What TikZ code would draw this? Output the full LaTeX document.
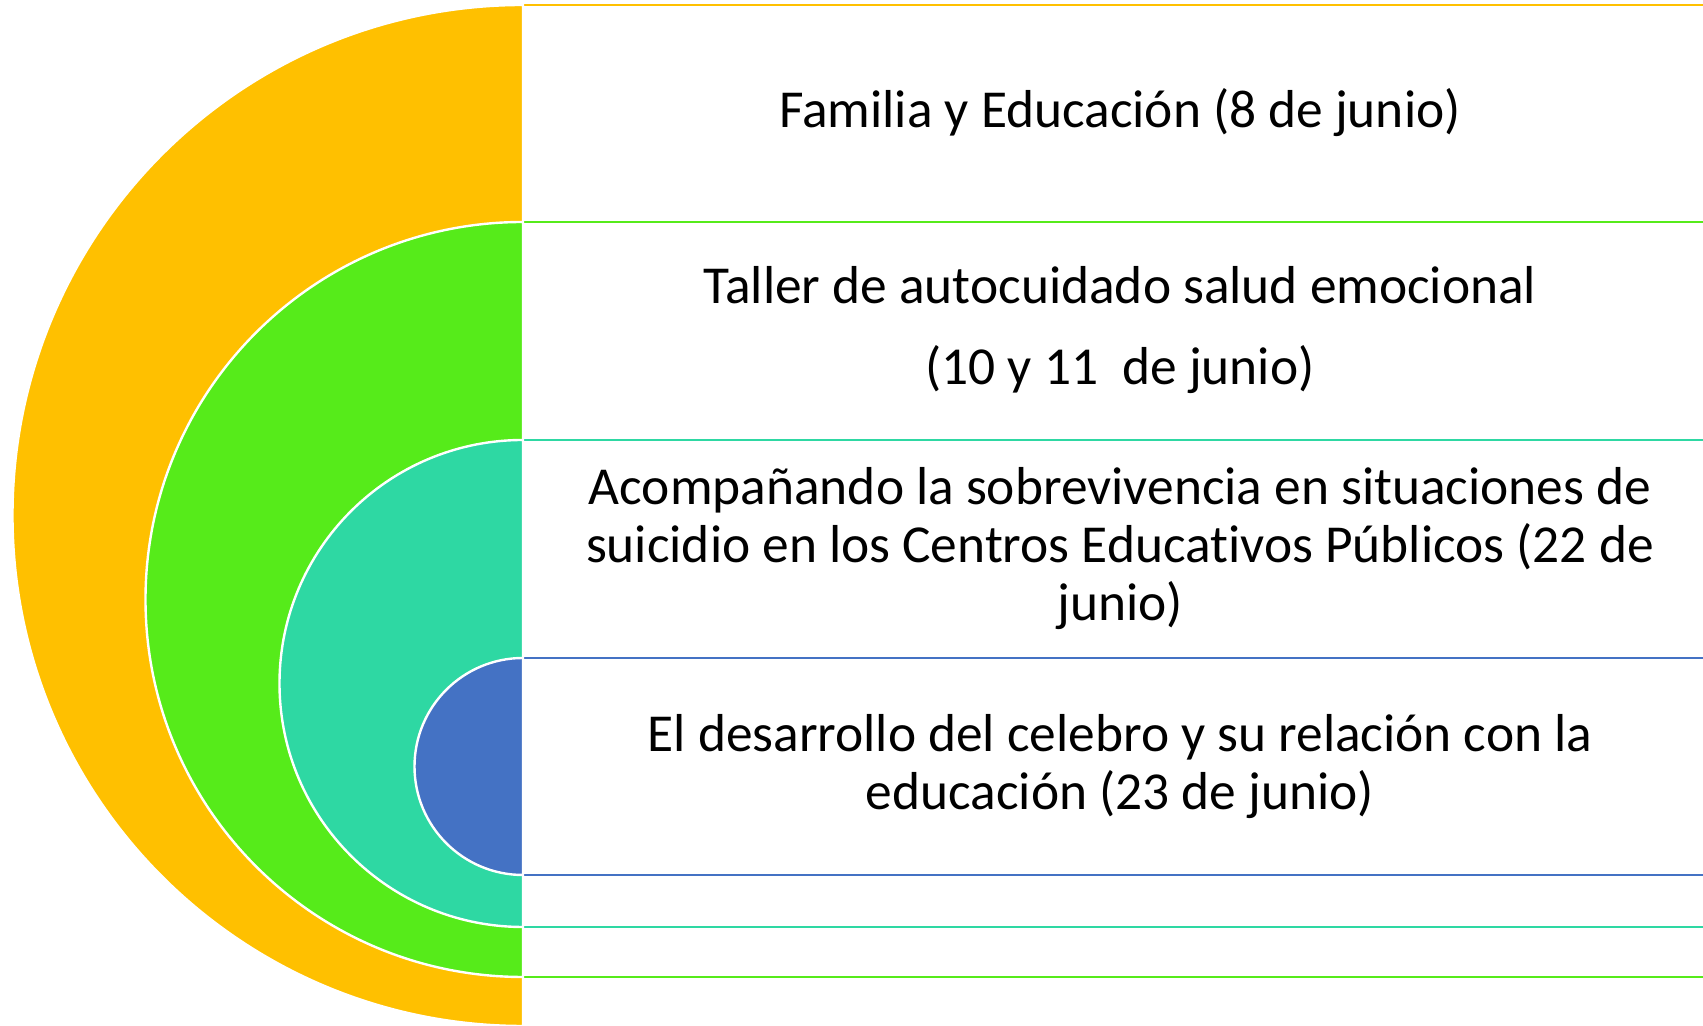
\documentclass[tikz,border=0pt]{standalone}
\usepackage{fontspec}
\setmainfont{Carlito}[Ligatures=NoCommon]
\usepackage{tikz}
\usetikzlibrary{positioning}
\definecolor{ringorange}{HTML}{FFC000}
\definecolor{ringgreen}{HTML}{56EB1A}
\definecolor{ringteal}{HTML}{2ED8A3}
\definecolor{ringblue}{HTML}{4472C4}
\tikzset{band/.style={fill=white, line width=1pt}}
\tikzset{halfdisk/.style={draw=white, line width=1.2pt}}
\tikzset{topic/.style={font=\fontsize{26.7}{29}\selectfont, align=center,
    anchor=base, inner sep=0pt}}

\begin{document}
\begin{tikzpicture}[x=0.5pt, y=0.5pt]
  \useasboundingbox (0,0) rectangle (1703,1026);
  \clip (0,0) rectangle (1703,1026);
      %%%%% outer ring
      \draw[band, draw=ringorange] (523,-3) rectangle (1760,1021);
      \fill[ringorange, halfdisk] (523,1021) arc[start angle=90, end angle=270, radius=510.5] -- cycle;
      %%%%% second ring
      \draw[band, draw=ringgreen] (523,49) rectangle (1760,804);
      \fill[ringgreen, halfdisk] (523,804) arc[start angle=90, end angle=270, radius=377.5] -- cycle;
      %%%%% third ring
      \draw[band, draw=ringteal] (523,99) rectangle (1760,586);
      \fill[ringteal, halfdisk] (523,586) arc[start angle=90, end angle=270, radius=243.5] -- cycle;
      %%%%% inner ring
      \draw[band, draw=ringblue] (523,151) rectangle (1760,368);
      \fill[ringblue, halfdisk] (523,368) arc[start angle=90, end angle=270, radius=108.5] -- cycle;
      %% texts (base = last line)
      \node[topic] (familia) at (1120,898) {Familia y Educación (8 de junio)};
      \node[topic] (taller) at (1120,641) {Taller de autocuidado salud emocional\\[11.5pt](10 y 11~ de junio)};
      \node[topic] (acompana) at (1120,405) {Acompañando la sobrevivencia en situaciones de\\suicidio en los Centros Educativos Públicos (22 de\\junio)};
      \node[topic] (desarrollo) at (1120,216) {El desarrollo del celebro y su relación con la\\educación (23 de junio)};
  \end{tikzpicture}
\end{document}
